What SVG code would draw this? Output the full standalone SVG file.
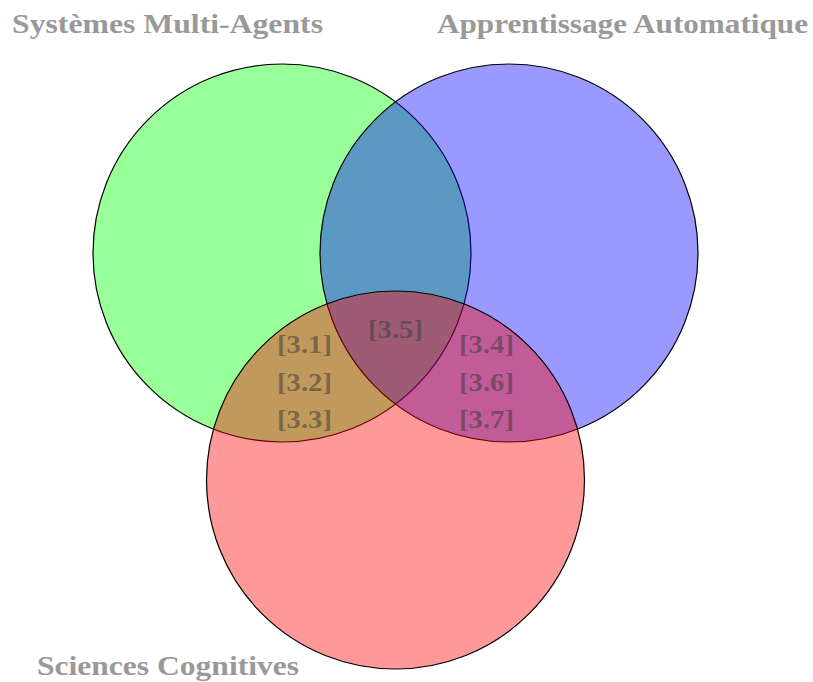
<svg xmlns="http://www.w3.org/2000/svg" width="813" height="682" viewBox="0 0 813 682">
<style>
.set{fill-opacity:0.4;stroke:#000;stroke-width:1.2}
.title{font-family:"Liberation Serif","DejaVu Serif",serif;font-weight:bold;font-size:28px;fill:#999}
.lab{font-family:"Liberation Serif","DejaVu Serif",serif;font-weight:bold;font-size:26px;fill:#3a3a3a;fill-opacity:0.55}
</style>
<rect width="813" height="682" fill="#fff"/>
<g id="sma"><circle class="set" cx="282" cy="253" r="189" fill="#00ff00"/></g>
<g id="aa"><circle class="set" cx="509" cy="253" r="189" fill="#0000ff"/></g>
<g id="sc"><circle class="set" cx="395.5" cy="480" r="189" fill="#ff0000"/></g>
<g id="titles">
<text class="title" x="12" y="33" textLength="311" lengthAdjust="spacingAndGlyphs">Systèmes Multi-Agents</text>
<text class="title" x="437" y="33" textLength="371" lengthAdjust="spacingAndGlyphs">Apprentissage Automatique</text>
<text class="title" x="37" y="675" textLength="262" lengthAdjust="spacingAndGlyphs">Sciences Cognitives</text>
</g>
<g id="labels">
<text class="lab" x="368" y="338" textLength="55" lengthAdjust="spacingAndGlyphs">[3.5]</text>
<text class="lab" x="277" y="353" textLength="55" lengthAdjust="spacingAndGlyphs">[3.1]</text>
<text class="lab" x="277" y="391" textLength="55" lengthAdjust="spacingAndGlyphs">[3.2]</text>
<text class="lab" x="277" y="428" textLength="55" lengthAdjust="spacingAndGlyphs">[3.3]</text>
<text class="lab" x="459" y="353" textLength="55" lengthAdjust="spacingAndGlyphs">[3.4]</text>
<text class="lab" x="459" y="391" textLength="55" lengthAdjust="spacingAndGlyphs">[3.6]</text>
<text class="lab" x="459" y="428" textLength="55" lengthAdjust="spacingAndGlyphs">[3.7]</text>
</g>
</svg>
